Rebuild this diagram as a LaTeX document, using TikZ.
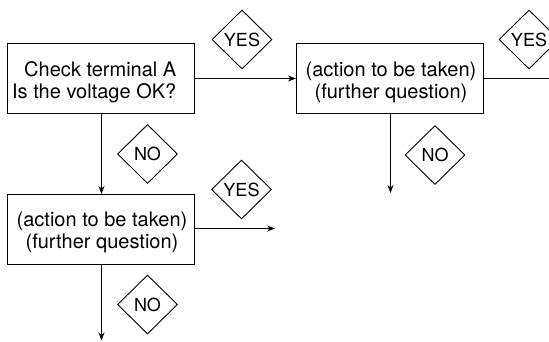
\documentclass[tikz,border=0pt]{standalone}
\usepackage{fontspec}
\setmainfont{TeX Gyre Heros}
\usetikzlibrary{shapes.geometric,arrows.meta}
\begin{document}
\begin{tikzpicture}[x=1pt,y=-1pt,
  box/.style={draw, line width=1.1pt, minimum width=187pt, minimum height=70pt, inner sep=0pt},
  txt/.style={font=\fontsize{20}{22}\selectfont, inner sep=0pt},
  tag/.style={draw, diamond, line width=0.9pt, minimum width=60pt, minimum height=59pt,
              inner sep=0pt, font=\fontsize{18}{18}\selectfont},
  flow/.style={line width=1.1pt, -{Stealth[length=8pt,width=6pt]}},
  wire/.style={line width=1.1pt},
]
\useasboundingbox (0,0) rectangle (549,341);
\clip (0,0) rectangle (549,341);

% decision and action boxes
\node[box] (q1) at (101,78.5) {};
\node[box] (q2) at (390,78.5) {};
\node[box] (q3) at (101,229.5) {};

% box texts
\node[txt, anchor=east, align=right] (q1txt) at (176.5,82) {Check terminal A\\Is the voltage OK?};
\node[txt, align=center] (q2txt) at (391,82) {(action to be taken)\\(further question)};
\node[txt, align=center] (q3txt) at (102,232) {(action to be taken)\\(further question)};

% answer tags
\node[tag] (y1) at (242,39.5) {YES};
\node[tag] (y2) at (529,39.5) {YES};
\node[tag] (n2) at (435,155) {NO};
\node[tag] (n1) at (147.5,154) {NO};
\node[tag] (y3) at (241.5,189.5) {YES};
\node[tag] (n3) at (147.5,304.5) {NO};

% free ends of the outgoing branches
\coordinate (q2out) at (560,78.5);
\coordinate (q2down) at (390.5,193);
\coordinate (q3out) at (275,228.5);
\coordinate (q3down) at (101.5,340.5);

% connectors
\draw[flow] (q1.east |- 0,78.5) -- (q2.west |- 0,78.5);
\draw[wire] (q2.east |- 0,78.5) -- (q2out);
\draw[flow] (q2.south -| q2down) -- (q2down);
\draw[flow] (q1.south -| 101.5,0) -- (q3.north -| 101.5,0);
\draw[flow] (q3.east |- q3out) -- (q3out);
\draw[flow] (q3.south -| q3down) -- (q3down);
\end{tikzpicture}
\end{document}
